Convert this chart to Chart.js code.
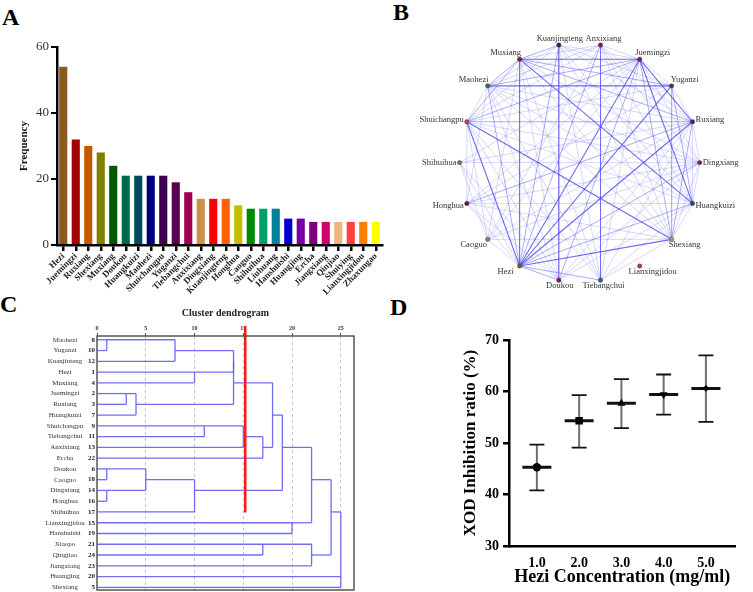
<!DOCTYPE html>
<html>
<head>
<meta charset="utf-8">
<script src="https://cdn.jsdelivr.net/npm/chart.js@4.4.1/dist/chart.umd.min.js"></script>
<style>
body{margin:0;background:#fff;width:753px;height:592px;position:relative;overflow:hidden}
canvas{position:absolute}
.lbl{position:absolute;font:bold 24px/24px "Liberation Serif",serif;color:#000}
</style>
</head>
<body>
<div class="lbl" style="left:2px;top:5px">A</div>
<div class="lbl" style="left:393px;top:0px">B</div>
<div class="lbl" style="left:0px;top:292px">C</div>
<div class="lbl" style="left:390px;top:295px">D</div>
<canvas id="ca" width="385" height="300" style="left:0;top:0"></canvas>
<canvas id="cb" width="373" height="300" style="left:380px;top:0"></canvas>
<canvas id="cc" width="380" height="302" style="left:0;top:290px"></canvas>
<canvas id="cd" width="373" height="302" style="left:380px;top:290px"></canvas>
<script>
const serif = 'Liberation Serif'

// A - herb frequency
const herbs = ['Hezi','Juemingzi','Ruxiang','Shexiang','Muxiang','Doukou','Huangkuizi','Maohezi','Shuichangpu','Yuganzi','Tiebangchui','Anxixiang','Dingxiang','Kuanjingteng','Honghua','Caoguo','Shihuihua','Liuhuang','Hanshuishi','Huangjing','Ercha','Jiangxiang','Qinjiao','Shuiying','Lianxingjidou','Zhaxungao']
const freq = [54,32,30,28,24,21,21,21,21,19,16,14,14,14,12,11,11,11,8,8,7,7,7,7,7,7]
const herbColors = ['#8b5a1e','#a50000','#c35a00','#7f7f00','#005a00','#006a46','#004a5e','#00007f','#3e0050','#5a0050','#9f0050','#c8914f','#ff0000','#ff6000','#c3be00','#008700','#00a06c','#008299','#0000c8','#7800a0','#7f007f','#d2006e','#f0b47f','#ff4040','#ff7f00','#ffff00']
const freqTicks = [0,20,40,60]

// B - co-occurrence network
const nodes = ['Dingxiang','Ruxiang','Yuganzi','Juemingzi','Anxixiang','Kuanjingteng','Muxiang','Maohezi','Shuichangpu','Shihuihua','Honghua','Caoguo','Hezi','Doukou','Tiebangchui','Lianxingjidou','Shexiang','Huangkuizi']
const nodeColors = ['#8a1a3c','#33335e','#8a1a3c','#8a1a3c','#8a1a3c','#40203f','#8a1a3c','#2e7a2e','#c0404a','#5a8a3a','#5a1a4a','#b07030','#806020','#8a1a3c','#406080','#c03050','#d09030','#404050']
const strongLinks = [['Hezi','Muxiang'],['Hezi','Juemingzi'],['Hezi','Ruxiang'],['Hezi','Yuganzi'],['Hezi','Shuichangpu'],['Hezi','Shexiang'],['Juemingzi','Huangkuizi'],['Juemingzi','Ruxiang'],['Muxiang','Juemingzi'],['Maohezi','Yuganzi'],['Muxiang','Huangkuizi'],['Shuichangpu','Shexiang']]
const midLinks = [['Hezi','Huangkuizi'],['Hezi','Dingxiang'],['Hezi','Kuanjingteng'],['Hezi','Anxixiang'],['Hezi','Maohezi'],['Hezi','Doukou'],['Hezi','Tiebangchui'],['Muxiang','Ruxiang'],['Muxiang','Yuganzi'],['Muxiang','Maohezi'],['Muxiang','Kuanjingteng'],['Maohezi','Juemingzi'],['Shuichangpu','Juemingzi'],['Shuichangpu','Ruxiang'],['Juemingzi','Doukou'],['Juemingzi','Shexiang'],['Ruxiang','Honghua'],['Ruxiang','Shexiang'],['Kuanjingteng','Doukou'],['Anxixiang','Tiebangchui'],['Muxiang','Shuichangpu'],['Yuganzi','Huangkuizi']]
const weakLinks = [['Shihuihua','Dingxiang'],['Shihuihua','Hezi'],['Shihuihua','Caoguo'],['Shihuihua','Doukou'],['Shihuihua','Ruxiang'],['Shihuihua','Juemingzi'],['Honghua','Dingxiang'],['Honghua','Huangkuizi'],['Honghua','Hezi'],['Honghua','Doukou'],['Honghua','Yuganzi'],['Honghua','Shexiang'],['Honghua','Maohezi'],['Honghua','Shuichangpu'],['Caoguo','Dingxiang'],['Caoguo','Hezi'],['Caoguo','Juemingzi'],['Caoguo','Muxiang'],['Caoguo','Shexiang'],['Caoguo','Ruxiang'],['Caoguo','Anxixiang'],['Caoguo','Shuichangpu'],['Doukou','Ruxiang'],['Doukou','Huangkuizi'],['Doukou','Dingxiang'],['Doukou','Muxiang'],['Doukou','Maohezi'],['Doukou','Shuichangpu'],['Tiebangchui','Shexiang'],['Tiebangchui','Shuichangpu'],['Tiebangchui','Muxiang'],['Tiebangchui','Ruxiang'],['Tiebangchui','Huangkuizi'],['Tiebangchui','Maohezi'],['Tiebangchui','Juemingzi'],['Tiebangchui','Kuanjingteng'],['Shexiang','Huangkuizi'],['Shexiang','Dingxiang'],['Shexiang','Muxiang'],['Shexiang','Maohezi'],['Shexiang','Kuanjingteng'],['Shexiang','Anxixiang'],['Huangkuizi','Dingxiang'],['Huangkuizi','Ruxiang'],['Huangkuizi','Maohezi'],['Huangkuizi','Shuichangpu'],['Huangkuizi','Anxixiang'],['Huangkuizi','Kuanjingteng'],['Dingxiang','Ruxiang'],['Dingxiang','Juemingzi'],['Dingxiang','Muxiang'],['Dingxiang','Maohezi'],['Dingxiang','Shuichangpu'],['Dingxiang','Anxixiang'],['Ruxiang','Yuganzi'],['Ruxiang','Anxixiang'],['Ruxiang','Kuanjingteng'],['Ruxiang','Maohezi'],['Yuganzi','Juemingzi'],['Yuganzi','Kuanjingteng'],['Yuganzi','Shuichangpu'],['Yuganzi','Shexiang'],['Juemingzi','Anxixiang'],['Juemingzi','Kuanjingteng'],['Juemingzi','Honghua'],['Anxixiang','Muxiang'],['Anxixiang','Maohezi'],['Anxixiang','Shuichangpu'],['Kuanjingteng','Maohezi'],['Kuanjingteng','Shuichangpu'],['Maohezi','Shuichangpu']]

// C - cluster dendrogram
const leafNames = ['Maohezi','Yuganzi','Kuanjinteng','Hezi','Muxiang','Juemingzi','Ruxiang','Huangkuizi','Shuichangpu','Tiebangchui','Anxixiang','Ercha','Doukou','Caoguo','Dingxiang','Honghua','Shihuihua','Lianxingjidou','Hanshuishi','Xiaopo','Qingjiao','Jiangxiang','Huangjing','Shexiang']
const leafIds = [8,10,12,1,4,2,3,7,9,11,13,22,6,18,14,16,17,15,19,21,24,23,20,5]
// [cluster a, cluster b, rescaled distance]; new clusters get ids 24, 25, ...
const merges = [[0,1,1],[12,13,1],[14,15,1],[5,6,3],[27,7,4],[25,26,5],[24,2,8],[3,4,10],[29,16,10],[8,9,11],[30,31,14],[34,28,14],[33,10,15],[36,11,17],[19,20,17],[35,37,18],[39,32,19],[17,18,20],[40,41,22],[38,21,22],[42,43,24],[22,23,25],[44,45,25]]
const distTicks = [0,5,10,15,20,25]
const cutHeight = 15.2

// D - XOD inhibition
const doses = [1,2,3,4,5]
const inhibMean = [45.3,54.3,57.7,59.4,60.6]
const inhibLow = [40.8,49.1,52.9,55.5,54.1]
const inhibHigh = [49.7,59.3,62.4,63.3,67.0]
const inhibTicks = [30,40,50,60,70]

// ---------- A ----------
new Chart(document.getElementById('ca'), {
  type: 'bar',
  data: { labels: herbs, datasets: [{ data: freq, backgroundColor: herbColors, barPercentage: 0.65, categoryPercentage: 1 }] },
  options: {
    responsive: false, animation: false,
    layout: { padding: { left: 14, top: 47, right: 3, bottom: 0 } },
    plugins: { legend: { display: false }, tooltip: { enabled: false } },
    scales: {
      x: {
        grid: { drawOnChartArea: false, offset: false, color: '#000', lineWidth: 2.5, tickLength: 6 },
        border: { color: '#000', width: 2.5 },
        ticks: { autoSkip: false, maxRotation: 45, minRotation: 45, padding: 0, color: '#222', font: { family: serif, weight: 'bold', size: 9 } },
        afterFit: s => { s.height = 55 }
      },
      y: {
        min: 0, max: 60,
        afterBuildTicks: s => { s.ticks = freqTicks.map(v => ({ value: v })) },
        grid: { drawOnChartArea: false, color: '#000', lineWidth: 2, tickLength: 6 },
        border: { color: '#000', width: 2.5 },
        ticks: { padding: 2, color: '#333', font: { family: serif, size: 13 } },
        title: { display: true, text: 'Frequency', color: '#111', padding: 4, font: { family: serif, weight: 'bold', size: 11 } },
        afterFit: s => { s.width = 43 }
      }
    }
  }
})

// ---------- B ----------
const nodePos = nodes.map((n, i) => ({ x: Math.cos(i * Math.PI / 9), y: Math.sin(i * Math.PI / 9) }))
const at = name => nodePos[nodes.indexOf(name)]
const edgeSet = (links, color, width) => links.map(([a, b]) => ({
  type: 'scatter', data: [at(a), at(b)], showLine: true, borderColor: color, borderWidth: width, pointRadius: 0, order: 2
}))

const nodeLabels = {
  id: 'nodeLabels',
  afterDatasetsDraw(chart) {
    const { ctx, scales: { x, y } } = chart
    ctx.save()
    ctx.font = '8.5px "' + serif + '"'
    ctx.fillStyle = '#333'
    nodes.forEach((n, i) => {
      const c = Math.cos(i * Math.PI / 9), s = Math.sin(i * Math.PI / 9)
      const px = x.getPixelForValue(nodePos[i].x), py = y.getPixelForValue(nodePos[i].y)
      ctx.textBaseline = 'middle'
      if (Math.abs(c) > 0.9) {
        ctx.textAlign = c > 0 ? 'left' : 'right'
        ctx.fillText(n, px + (c > 0 ? 3 : -3), py + (s > 0.2 ? -2 : s < -0.2 ? 2 : 0))
      } else {
        ctx.textAlign = 'center'
        const dx = c > 0.45 ? 13 : c < -0.45 ? -14 : c > 0 ? 3 : 1
        ctx.fillText(n, px + dx, py + (s > 0 ? -6 : 5.5))
      }
    })
    ctx.restore()
  }
}

new Chart(document.getElementById('cb'), {
  type: 'scatter',
  data: {
    datasets: [
      { data: nodePos, pointRadius: 2.2, pointBackgroundColor: nodeColors, pointBorderColor: '#333', pointBorderWidth: 0.4, order: 0 },
      ...edgeSet(strongLinks, 'rgba(70,70,235,0.8)', 1.1),
      ...edgeSet(midLinks, 'rgba(90,90,240,0.5)', 1),
      ...edgeSet(weakLinks, 'rgba(110,110,245,0.28)', 1)
    ]
  },
  options: {
    responsive: false, animation: false,
    layout: { padding: 0 },
    plugins: { legend: { display: false }, tooltip: { enabled: false } },
    scales: {
      x: { display: false, min: -1.626, max: 1.407 },
      y: { display: false, min: -1.114, max: 1.325 }
    }
  },
  plugins: [nodeLabels]
})

// ---------- C ----------
const rowOf = leafNames.map((n, i) => i)
const hOf = leafNames.map(() => 0)
const treeSegs = []
merges.forEach(([a, b, h]) => {
  treeSegs.push([{ x: hOf[a], y: rowOf[a] }, { x: h, y: rowOf[a] }])
  treeSegs.push([{ x: hOf[b], y: rowOf[b] }, { x: h, y: rowOf[b] }])
  treeSegs.push([{ x: h, y: rowOf[a] }, { x: h, y: rowOf[b] }])
  rowOf.push(Math.floor((rowOf[a] + rowOf[b]) / 2))
  hOf.push(h)
})

const leafText = {
  id: 'leafText',
  afterDraw(chart) {
    const { ctx, scales: { y }, chartArea: ca } = chart
    ctx.save()
    ctx.strokeStyle = '#555'
    ctx.lineWidth = 1.5
    ctx.strokeRect(ca.left, ca.top, ca.right - ca.left, ca.bottom - ca.top)
    ctx.textBaseline = 'middle'
    leafNames.forEach((n, i) => {
      const py = y.getPixelForValue(i)
      ctx.font = '7px "' + serif + '"'
      ctx.fillStyle = '#333'
      ctx.textAlign = 'center'
      ctx.fillText(n, 65, py)
      ctx.font = 'bold 7px "' + serif + '"'
      ctx.fillStyle = '#222'
      ctx.textAlign = 'right'
      ctx.fillText(String(leafIds[i]), 95, py)
    })
    ctx.restore()
  }
}

new Chart(document.getElementById('cc'), {
  type: 'scatter',
  data: {
    datasets: [
      { data: [{ x: cutHeight, y: -1.25 }, { x: cutHeight, y: 16.05 }], showLine: true, borderColor: '#ff1a1a', borderWidth: 2.5, pointRadius: 0, clip: false, order: 0 },
      ...treeSegs.map(seg => ({ data: seg, showLine: true, borderColor: 'rgba(95,95,240,0.9)', borderWidth: 1.3, pointRadius: 0, order: 1 }))
    ]
  },
  options: {
    responsive: false, animation: false,
    layout: { padding: { left: 97, right: 26, bottom: 2, top: 0 } },
    plugins: {
      legend: { display: false }, tooltip: { enabled: false },
      title: { display: true, text: 'Cluster dendrogram', color: '#222', padding: { top: 17, bottom: 0 }, font: { family: serif, weight: 'bold', size: 10, lineHeight: 1.2 } }
    },
    scales: {
      x: {
        position: 'top', min: 0, max: 26.35,
        afterBuildTicks: s => { s.ticks = distTicks.map(v => ({ value: v })) },
        grid: { color: c => c.tick && c.tick.value === 0 ? 'rgba(0,0,0,0)' : '#c4c4c4', tickColor: '#555', tickLength: 3, lineWidth: 1 },
        border: { display: false, dash: [3, 3] },
        ticks: { padding: 1, color: '#333', font: { family: serif, weight: 'bold', size: 6 } },
        afterFit: s => { s.height = 17 }
      },
      y: { display: false, reverse: true, min: -0.35, max: 23.25 }
    }
  },
  plugins: [leafText]
})

// ---------- D ----------
const errBars = {
  id: 'errBars',
  beforeDatasetsDraw(chart) {
    const { ctx, scales: { x, y } } = chart
    ctx.save()
    doses.forEach((d, i) => {
      const px = x.getPixelForValue(d)
      const top = y.getPixelForValue(inhibHigh[i]), bot = y.getPixelForValue(inhibLow[i])
      ctx.strokeStyle = '#707070'
      ctx.lineWidth = 2
      ctx.beginPath(); ctx.moveTo(px, top); ctx.lineTo(px, bot); ctx.stroke()
      ctx.strokeStyle = '#111'
      ctx.lineWidth = 1.8
      ctx.beginPath()
      ctx.moveTo(px - 7.5, top); ctx.lineTo(px + 7.5, top)
      ctx.moveTo(px - 7.5, bot); ctx.lineTo(px + 7.5, bot)
      ctx.stroke()
    })
    ctx.restore()
  }
}

const meanPts = doses.map((d, i) => ({ x: d, y: inhibMean[i] }))
new Chart(document.getElementById('cd'), {
  type: 'scatter',
  data: {
    datasets: [
      { data: meanPts, pointStyle: ['circle', 'rect', 'triangle', 'triangle', 'rectRot'], rotation: [0, 0, 0, 180, 0], pointRadius: [4.2, 5.3, 4.6, 4.6, 3.4], backgroundColor: '#000', borderColor: '#000', borderWidth: 0, order: 0 },
      { data: meanPts, pointStyle: 'line', pointRadius: 14.5, borderColor: '#111', borderWidth: 3, order: 1 }
    ]
  },
  options: {
    responsive: false, animation: false,
    layout: { padding: { left: 76, top: 50, right: 1, bottom: 0 } },
    plugins: { legend: { display: false }, tooltip: { enabled: false } },
    scales: {
      x: {
        type: 'linear', min: 0.34, max: 5.7,
        afterBuildTicks: s => { s.ticks = doses.map(v => ({ value: v })) },
        grid: { display: false },
        border: { color: '#000', width: 2.5 },
        ticks: { padding: 1, color: '#000', callback: v => v.toFixed(1), font: { family: serif, weight: 'bold', size: 14 } },
        title: { display: true, text: 'Hezi Concentration (mg/ml)', color: '#000', padding: { top: 0, bottom: 4 }, font: { family: serif, weight: 'bold', size: 18 } },
        afterFit: s => { s.height = 46 }
      },
      y: {
        min: 30, max: 70,
        afterBuildTicks: s => { s.ticks = inhibTicks.map(v => ({ value: v })) },
        grid: { drawOnChartArea: false, color: '#000', lineWidth: 2.5, tickLength: 6 },
        border: { color: '#000', width: 2.5 },
        ticks: { padding: 4, color: '#000', font: { family: serif, weight: 'bold', size: 14 } },
        title: { display: true, text: 'XOD Inhibition ratio (%)', color: '#000', padding: 4, font: { family: serif, weight: 'bold', size: 17 } },
        afterFit: s => { s.width = 53 }
      }
    }
  },
  plugins: [errBars]
})
</script>
</body>
</html>
